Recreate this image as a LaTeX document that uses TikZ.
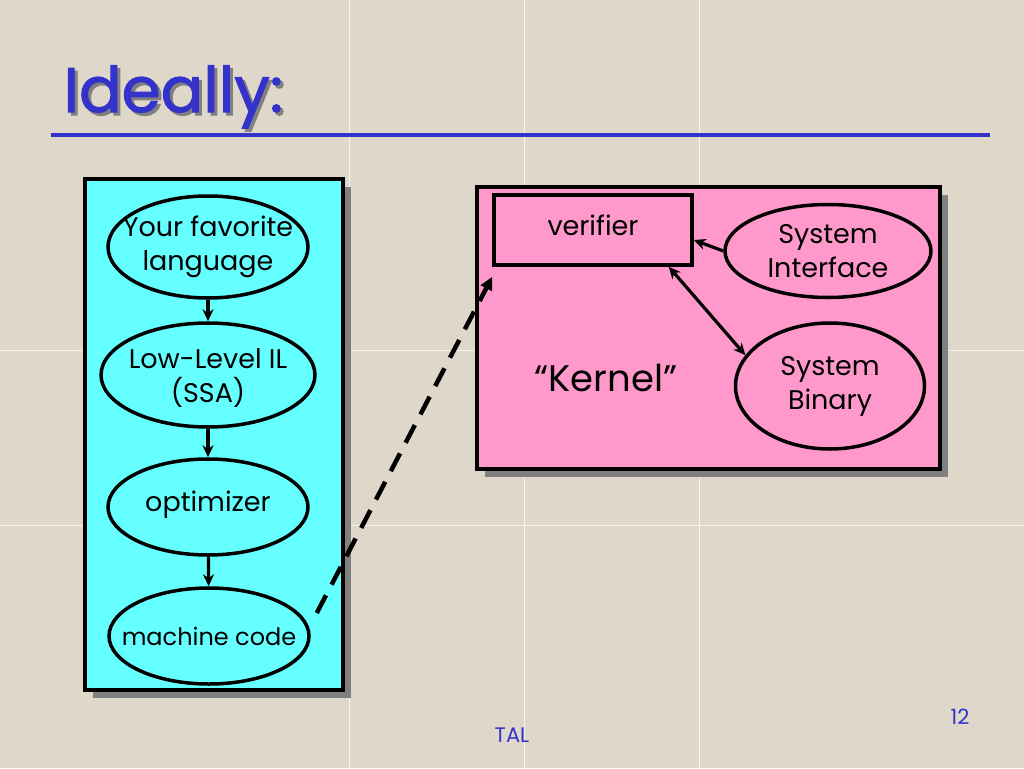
\documentclass[tikz,border=0pt]{standalone}
\usepackage{fontspec}
\setmainfont{Poppins}
\newfontfamily\titlefont[FakeBold=1.6]{Poppins}
\usetikzlibrary{shapes.geometric,arrows.meta}
\definecolor{bgc}{RGB}{223,215,201}
\definecolor{lcyan}{RGB}{102,255,255}
\definecolor{lpink}{RGB}{255,153,204}
\definecolor{tblue}{RGB}{51,51,204}
\definecolor{shad}{RGB}{128,128,128}
\begin{document}
\begin{tikzpicture}[x=1pt,y=-1pt,
  panel/.style={draw=black, line width=4pt},
  ell/.style={ellipse, draw=black, line width=3.5pt, inner sep=0pt},
  txt/.style={font=\fontsize{27}{34}\selectfont, align=center, text=black},
  arr/.style={-{Stealth[length=12pt,width=11pt]}, line width=3.2pt},
  darr/.style={{Stealth[length=12pt,width=11pt]}-{Stealth[length=12pt,width=11pt]}, line width=3.2pt},
  dasharr/.style={-{Triangle[length=13pt,width=12pt]}, line width=4.5pt, dash pattern=on 20pt off 12pt},
]
\useasboundingbox (0,0) rectangle (1024,768);
\fill[bgc] (0,0) rectangle (1024,768);
\foreach \gx in {349,524,699} \draw[white, opacity=0.7, line width=0.8pt] (\gx,0) -- (\gx,768);
\foreach \gy in {350,525} \draw[white, opacity=0.7, line width=0.8pt] (0,\gy) -- (1024,\gy);
% title
\node[anchor=base west, font=\fontsize{63}{70}\titlefont, text=tblue] (title) at (60,112)
  {\makebox[0pt][l]{\hspace{3pt}\raisebox{-3pt}{\textcolor{shad}{Ideally:}}}Ideally:};
\draw[tblue, line width=4pt] (51,135) -- (990,135);
% left panel
\fill[shad] (93,187) rectangle (351,698);
\draw[panel, fill=lcyan] (85,179) rectangle (343,690);
\node[ell, fill=lcyan, minimum width=200pt, minimum height=102pt,
  label={[txt]center:Your favorite\\language}] (lang) at (208,247) {};
\node[ell, fill=lcyan, minimum width=214pt, minimum height=104pt,
  label={[txt,yshift=-3pt]center:Low-Level IL\\(SSA)}] (ssa) at (208,375) {};
\node[ell, fill=lcyan, minimum width=200pt, minimum height=96pt,
  label={[txt,yshift=2pt]center:optimizer}] (opt) at (208,507) {};
\node[ell, fill=lcyan, minimum width=200pt, minimum height=96pt,
  label={[txt,font=\fontsize{24}{30}\selectfont]center:machine code}] (mc) at (209,636) {};
\draw[arr] (lang) -- (ssa);
\draw[arr] (ssa) -- (opt);
\draw[arr] (opt) -- (mc);
% kernel panel
\fill[shad] (485,195) rectangle (948,477);
\draw[panel, fill=lpink] (477,187) rectangle (940,469);
\node[draw=black, line width=3.5pt, fill=lpink, minimum width=198pt, minimum height=70pt, inner sep=0pt,
  label={[txt,yshift=5pt]center:verifier}] (ver) at (593,230) {};
\node[ell, fill=lpink, minimum width=206pt, minimum height=93pt,
  label={[txt]center:System\\Interface}] (si) at (828,251) {};
\node[ell, fill=lpink, minimum width=189pt, minimum height=126pt,
  label={[txt]center:System\\Binary}] (sb) at (830,386) {};
\node[font=\fontsize{37}{44}\selectfont] (kern) at (606,378) {“Kernel”};
\draw[arr] (si.west) -- ([yshift=-10pt]ver.east);
\draw[darr] ([xshift=-25pt]ver.south east) -- (sb.160);
% dashed connector
\coordinate (dstart) at ([xshift=6pt,yshift=23pt]mc.east);
\draw[dasharr] (dstart) -- ([yshift=-10pt]ver.south west);
% footer
\node[text=tblue, font=\fontsize{21}{24}\selectfont] (tal) at (512,735) {TAL};
\node[text=tblue, font=\fontsize{21}{24}\selectfont] (pg) at (960,717) {12};
\end{tikzpicture}
\end{document}
